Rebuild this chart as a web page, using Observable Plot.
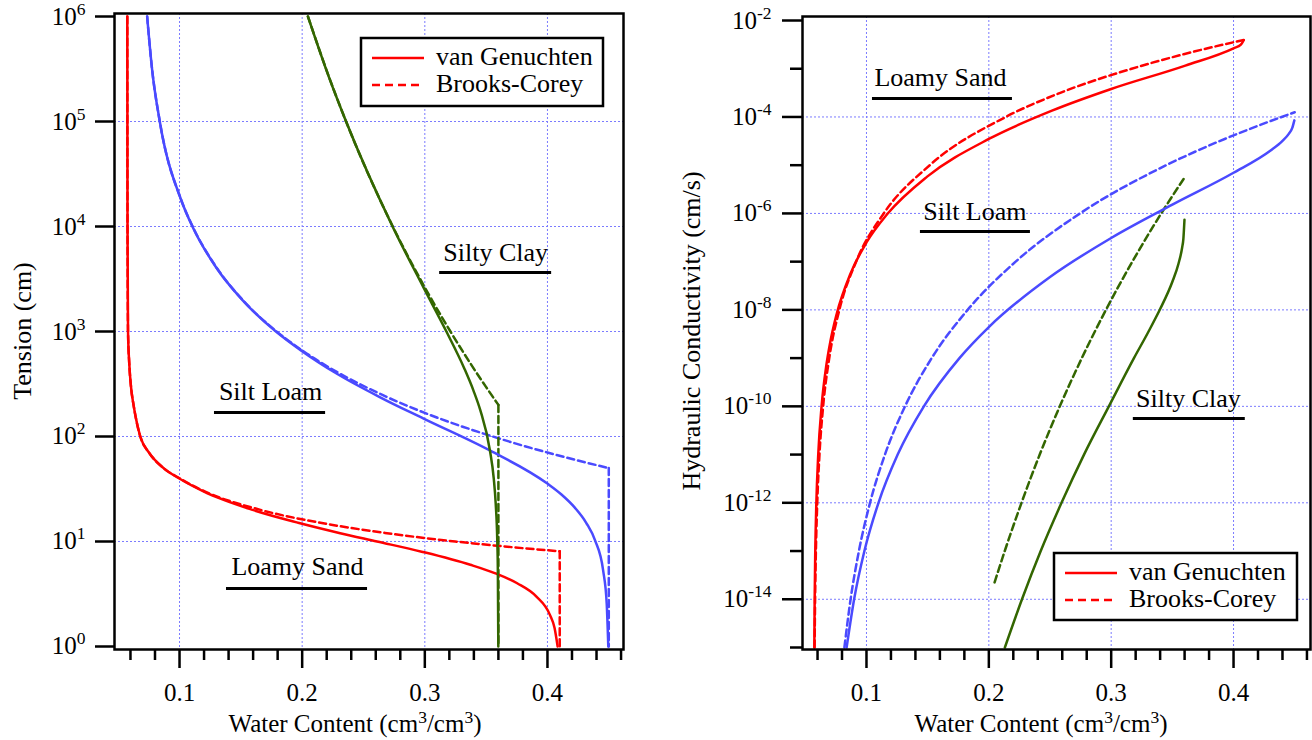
<!DOCTYPE html>
<html><head><meta charset="utf-8">
<script src="https://cdn.jsdelivr.net/npm/d3@7"></script>
<script src="https://cdn.jsdelivr.net/npm/@observablehq/plot@0.6"></script>
<style>
body{margin:0;background:#fff;}
#wrap{position:relative;width:1312px;height:740px;overflow:hidden;background:#fff;}
#wrap > svg{position:absolute;top:0;}
</style></head><body><div id="wrap"></div>
<script>
// ---------- Retention curves: water content (cm3/cm3) vs tension (cm) ----------
const lsVgTheta = [0.0574, 0.0576, 0.0580, 0.0590, 0.0604, 0.0625, 0.0644, 0.0680, 0.0752, 0.0870, 0.0995, 0.1195, 0.1595, 0.1975, 0.2310, 0.2610, 0.2974, 0.3371, 0.3570, 0.3753, 0.3908, 0.4020, 0.4058, 0.4083];
const lsVgH     = [1e6, 1e4, 1e3, 500, 300, 200, 150, 100, 70, 50, 40, 30, 20, 15, 12, 10, 8, 6, 5, 4, 3, 2, 1.5, 1];
const lsBcTheta = [0.0574, 0.0576, 0.0580, 0.0590, 0.0604, 0.0625, 0.0644, 0.0680, 0.0752, 0.0870, 0.1000, 0.1205, 0.1660, 0.2160, 0.2691, 0.3248, 0.3635, 0.4100, 0.4100];
const lsBcH     = [1e6, 1e4, 1e3, 500, 300, 200, 150, 100, 70, 50, 40, 30, 20, 15, 12, 10, 9, 8.06, 1];
const slVgTheta = [0.0736, 0.0776, 0.0839, 0.1015, 0.1105, 0.1299, 0.1517, 0.1786, 0.1990, 0.2280, 0.2640, 0.2990, 0.3530, 0.3996, 0.4114, 0.4223, 0.4317, 0.4389, 0.4454, 0.4483, 0.4496];
const slVgH     = [1e6, 3.16e5, 1e5, 1.77e4, 1e4, 4070, 1970, 1000, 661, 398, 235, 148, 73.6, 35.8, 28, 21, 15, 10.2, 5.3, 2.57, 1];
const slBcTheta = [0.0736, 0.0776, 0.0839, 0.1015, 0.1107, 0.1301, 0.1519, 0.1792, 0.2000, 0.2286, 0.2650, 0.3010, 0.3615, 0.4007, 0.4500, 0.4500];
const slBcH     = [1e6, 3.16e5, 1e5, 1.77e4, 1e4, 4070, 1970, 1000, 661, 410, 250, 166, 95, 70, 50, 1];
const scVgTheta = [0.2047, 0.2219, 0.2358, 0.2737, 0.2989, 0.3176, 0.3322, 0.3396, 0.3453, 0.3531, 0.3562, 0.3578, 0.3591, 0.35955, 0.35992];
const scVgH     = [1e6, 2.63e5, 1e5, 1e4, 2630, 1000, 445, 275, 177, 73.6, 40, 23, 10, 5.3, 1];
const scBcTheta = [0.2047, 0.2220, 0.2358, 0.2739, 0.3000, 0.3142, 0.3209, 0.3372, 0.3496, 0.3600, 0.3600];
const scBcH     = [1e6, 2.63e5, 1e5, 1e4, 2630, 1350, 1000, 496, 300, 200, 1];

// ---------- Hydraulic conductivity (cm/s) vs water content ----------
const lsVgKTheta = [0.05737, 0.05765, 0.05815, 0.05903, 0.06057, 0.0633, 0.0672, 0.0700, 0.0757, 0.0870, 0.1000, 0.1170, 0.1496, 0.2000, 0.2516, 0.3000, 0.3606, 0.4000, 0.4060, 0.4083];
const lsVgK      = [1e-15, 1e-14, 1e-13, 1e-12, 1e-11, 1e-10, 7.1e-10, 1.9e-9, 8.3e-9, 5.7e-8, 2.5e-7, 9.7e-7, 5.8e-6, 3.5e-5, 1.35e-4, 3.8e-4, 1.16e-3, 2.65e-3, 3.15e-3, 3.9e-3];
const lsBcKTheta = [0.05761, 0.05801, 0.05867, 0.05977, 0.06158, 0.06459, 0.06957, 0.07783, 0.09151, 0.1141, 0.1517, 0.2138, 0.2589, 0.3167, 0.3593, 0.4100];
const lsBcK      = [1e-15, 1e-14, 1e-13, 1e-12, 1e-11, 1e-10, 1e-9, 1e-8, 1e-7, 1e-6, 1e-5, 1e-4, 3.2e-4, 1e-3, 2e-3, 4.05e-3];
const slVgKTheta = [0.08377, 0.0899, 0.0983, 0.1098, 0.1255, 0.1469, 0.1760, 0.2000, 0.2500, 0.3000, 0.3500, 0.4000, 0.4300, 0.4400, 0.4450, 0.4480, 0.4497];
const slVgK      = [1e-15, 1e-14, 1e-13, 1e-12, 1e-11, 1e-10, 1e-9, 4.4e-9, 4.8e-8, 3.1e-7, 1.52e-6, 6.96e-6, 1.99e-5, 3.19e-5, 4.41e-5, 5.93e-5, 8.5e-5];
const slBcKTheta = [0.08195, 0.08702, 0.09382, 0.1029, 0.1151, 0.1315, 0.1533, 0.1827, 0.2219, 0.2745, 0.3450, 0.3886, 0.4182, 0.4393, 0.4500];
const slBcK      = [1e-15, 1e-14, 1e-13, 1e-12, 1e-11, 1e-10, 1e-9, 1e-8, 1e-7, 1e-6, 1e-5, 3.16e-5, 6.3e-5, 1e-4, 1.25e-4];
const scVgKTheta = [0.2131, 0.2271, 0.2424, 0.2594, 0.2778, 0.2981, 0.3186, 0.3300, 0.3400, 0.3500, 0.3550, 0.3580, 0.3590, 0.3599];
const scVgK      = [1e-15, 1e-14, 1e-13, 1e-12, 1e-11, 1e-10, 1e-9, 3.36e-9, 1.04e-8, 3.84e-8, 9.07e-8, 1.96e-7, 2.98e-7, 7.4e-7];
const scBcKTheta = [0.2047, 0.2130, 0.2267, 0.2416, 0.2580, 0.2760, 0.2957, 0.3173, 0.3409, 0.3600];
const scBcK      = [2.24e-14, 1e-13, 1e-12, 1e-11, 1e-10, 1e-9, 1e-8, 1e-7, 1e-6, 5.56e-6];

// ---------- Ticks ----------
const xMajor = [0.1, 0.2, 0.3, 0.4];
const xMinor = [0.06, 0.08, 0.12, 0.14, 0.16, 0.18, 0.22, 0.24, 0.26, 0.28, 0.32, 0.34, 0.36, 0.38, 0.42, 0.44, 0.46];
const hTicks = [1, 10, 100, 1e3, 1e4, 1e5, 1e6];
const hGrid  = [10, 100, 1e3, 1e4, 1e5];
const kMajor = [1e-2, 1e-4, 1e-6, 1e-8, 1e-10, 1e-12, 1e-14];
const kMinor = [1e-3, 1e-5, 1e-7, 1e-9, 1e-11, 1e-13, 1e-15];
const kGrid  = [1e-4, 1e-6, 1e-8, 1e-10, 1e-12, 1e-14];

// ---------- Soil annotations (data coordinates) ----------
const soilNames = ["Silty Clay", "Silt Loam", "Loamy Sand"];
const leftLabelTheta = [0.3578, 0.1742, 0.1962];
const leftLabelH     = [5650, 268, 5.78];
const leftUnderX1    = [0.3121, 0.1285, 0.1383];
const leftUnderX2    = [0.4034, 0.2191, 0.2533];
const leftUnderH     = [3650, 169, 3.57];
const rightNames = ["Loamy Sand", "Silt Loam", "Silty Clay"];
const rightLabelTheta = [0.1605, 0.1886, 0.3631];
const rightLabelK     = [6.6e-4, 1.1e-6, 1.47e-10];
const rightUnderX1    = [0.1049, 0.1441, 0.3181];
const rightUnderX2    = [0.2193, 0.2340, 0.4096];
const rightUnderK     = [2.41e-4, 4.24e-7, 5.6e-11];

const legendNames = ["van Genuchten", "Brooks-Corey"];

// ---------- Styling ----------
const FONT = '"Liberation Serif","Times New Roman",Times,serif';
const FS = 26;
const RED = "#ff0000", BLUE = "#4a4aff", GREEN = "#336600", GRID = "#7b7bff";
const DASH = "7,4";
const NS = "http://www.w3.org/2000/svg";

function rows(xs, ys) { return xs.map((x, i) => ({x, y: ys[i]})); }

function seriesMarks(list) {
  const marks = [];
  for (const s of list) {
    const data = rows(s.x, s.y);
    const body = s.corner ? data.slice(0, -1) : data;
    marks.push(Plot.line(body, {x: "x", y: "y", stroke: s.color, strokeWidth: 2.5,
      strokeDasharray: s.dash ? DASH : null, curve: "monotone-x"}));
    if (s.corner) marks.push(Plot.line(data.slice(-2), {x: "x", y: "y", stroke: s.color, strokeWidth: 2.5, strokeDasharray: DASH}));
  }
  return marks;
}

function labelMarks(names, lx, ly, ux1, ux2, uy) {
  const lab = names.map((t, i) => ({t, x: lx[i], y: ly[i]}));
  const und = names.map((t, i) => ({x1: ux1[i], x2: ux2[i], y: uy[i]}));
  return [
    Plot.text(lab, {x: "x", y: "y", text: "t", fontSize: FS, fill: "black"}),
    Plot.ruleY(und, {y: "y", x1: "x1", x2: "x2", stroke: "black", strokeWidth: 3})
  ];
}

const expFmt = d => "10^" + Math.round(Math.log10(d));

function supTicks(svg) {
  svg.querySelectorAll('g[aria-label="y-axis tick label"] text').forEach(t => {
    const m = t.textContent.match(/^10\^(.+)$/);
    if (!m) return;
    t.textContent = "10";
    const ts = document.createElementNS(NS, "tspan");
    ts.setAttribute("dy", "-10");
    ts.setAttribute("font-size", "17.5");
    ts.textContent = m[1];
    t.appendChild(ts);
  });
}

function el(tag, attrs, parent) {
  const e = document.createElementNS(NS, tag);
  for (const k in attrs) e.setAttribute(k, attrs[k]);
  if (parent) parent.appendChild(e);
  return e;
}

function title(svg, x, y, parts, rotate, size) {
  const t = el("text", {x, y, "text-anchor": "middle", "font-size": size || FS, "font-family": FONT, fill: "black"}, svg);
  if (rotate) t.setAttribute("transform", `rotate(-90 ${x} ${y})`);
  let shift = 0;
  for (const [s, sup] of parts) {
    const a = {};
    if (sup) { a.dy = -9; a["font-size"] = 17.5; shift = 9; }
    else if (shift) { a.dy = shift; shift = 0; }
    const ts = el("tspan", a, t);
    ts.textContent = s;
  }
}

function legend(svg, x, y, w, h) {
  const g = el("g", {}, svg);
  el("rect", {x, y, width: w, height: h, fill: "white", stroke: "black", "stroke-width": 2.5}, g);
  const rowsY = [20, 47];
  legendNames.forEach((name, i) => {
    el("line", {x1: x + 11, x2: x + 63, y1: y + rowsY[i], y2: y + rowsY[i], stroke: RED, "stroke-width": 2.5,
      "stroke-dasharray": i ? "8,5" : "none"}, g);
    const t = el("text", {x: x + 75, y: y + rowsY[i] + 7, "text-anchor": "start", "font-size": FS, "font-family": FONT, fill: "black"}, g);
    t.textContent = name;
  });
}

const commonStyle = {fontFamily: FONT, fontSize: "25px", background: "transparent", color: "black"};
const gridOpts = {stroke: GRID, strokeOpacity: 1, strokeDasharray: "2,2", strokeWidth: 1};

// ---------- Left plot ----------
const left = Plot.plot({
  width: 656, height: 740, marginLeft: 114, marginRight: 33, marginTop: 13, marginBottom: 91,
  style: commonStyle,
  x: {type: "linear", domain: [0.04698, 0.462]},
  y: {type: "log", domain: [Math.pow(10, -0.0286), Math.pow(10, 6.0286)]},
  marks: [
    Plot.gridX(xMajor, gridOpts),
    Plot.gridY(hGrid, gridOpts),
    ...seriesMarks([
      {x: lsBcTheta, y: lsBcH, color: RED, dash: true, corner: true},
      {x: slBcTheta, y: slBcH, color: BLUE, dash: true, corner: true},
      {x: scBcTheta, y: scBcH, color: GREEN, dash: true, corner: true},
      {x: lsVgTheta, y: lsVgH, color: RED},
      {x: slVgTheta, y: slVgH, color: BLUE},
      {x: scVgTheta, y: scVgH, color: GREEN}
    ]),
    ...labelMarks(soilNames, leftLabelTheta, leftLabelH, leftUnderX1, leftUnderX2, leftUnderH),
    Plot.frame({stroke: "black", strokeWidth: 2.5}),
    Plot.axisX(xMajor, {tickSize: 19, tickPadding: 15, strokeWidth: 2.5, tickFormat: d3.format(".1f"), label: null}),
    Plot.axisX(xMinor, {tickSize: 11, strokeWidth: 2.5, tickFormat: () => "", label: null}),
    Plot.axisY(hTicks, {tickSize: 19, tickPadding: 10, strokeWidth: 2.5, tickFormat: expFmt, label: null})
  ]
});
left.style.left = "0px";

// ---------- Right plot ----------
const right = Plot.plot({
  width: 656, height: 740, marginLeft: 146, marginRight: 2, marginTop: 16, marginBottom: 91,
  style: commonStyle,
  x: {type: "linear", domain: [0.04771, 0.4629]},
  y: {type: "log", domain: [Math.pow(10, -15.0415), Math.pow(10, -1.917)]},
  marks: [
    Plot.gridX(xMajor, gridOpts),
    Plot.gridY(kGrid, gridOpts),
    ...seriesMarks([
      {x: lsBcKTheta, y: lsBcK, color: RED, dash: true},
      {x: slBcKTheta, y: slBcK, color: BLUE, dash: true},
      {x: scBcKTheta, y: scBcK, color: GREEN, dash: true},
      {x: lsVgKTheta, y: lsVgK, color: RED},
      {x: slVgKTheta, y: slVgK, color: BLUE},
      {x: scVgKTheta, y: scVgK, color: GREEN}
    ]),
    ...labelMarks(rightNames, rightLabelTheta, rightLabelK, rightUnderX1, rightUnderX2, rightUnderK),
    Plot.frame({stroke: "black", strokeWidth: 2.5}),
    Plot.axisX(xMajor, {tickSize: 19, tickPadding: 15, strokeWidth: 2.5, tickFormat: d3.format(".1f"), label: null}),
    Plot.axisX(xMinor, {tickSize: 11, strokeWidth: 2.5, tickFormat: () => "", label: null}),
    Plot.axisY(kMajor, {tickSize: 20, tickPadding: 11, strokeWidth: 2.5, tickFormat: expFmt, label: null}),
    Plot.axisY(kMinor, {tickSize: 12, strokeWidth: 2.5, tickFormat: () => "", label: null})
  ]
});
right.style.left = "656px";

supTicks(left); supTicks(right);

title(left, 31, 331, [["Tension (cm)"]], true);
title(left, 355, 732, [["Water Content (cm"], ["3", true], ["/cm"], ["3", true], [")"]], false, 25);
legend(left, 361, 38, 242, 68);

title(right, 44, 331, [["Hydraulic Conductivity (cm/s)"]], true);
title(right, 385, 732, [["Water Content (cm"], ["3", true], ["/cm"], ["3", true], [")"]], false, 25);
legend(right, 398, 553, 243, 67);

const wrap = document.getElementById("wrap");
wrap.appendChild(left);
wrap.appendChild(right);
</script>
</body></html>
